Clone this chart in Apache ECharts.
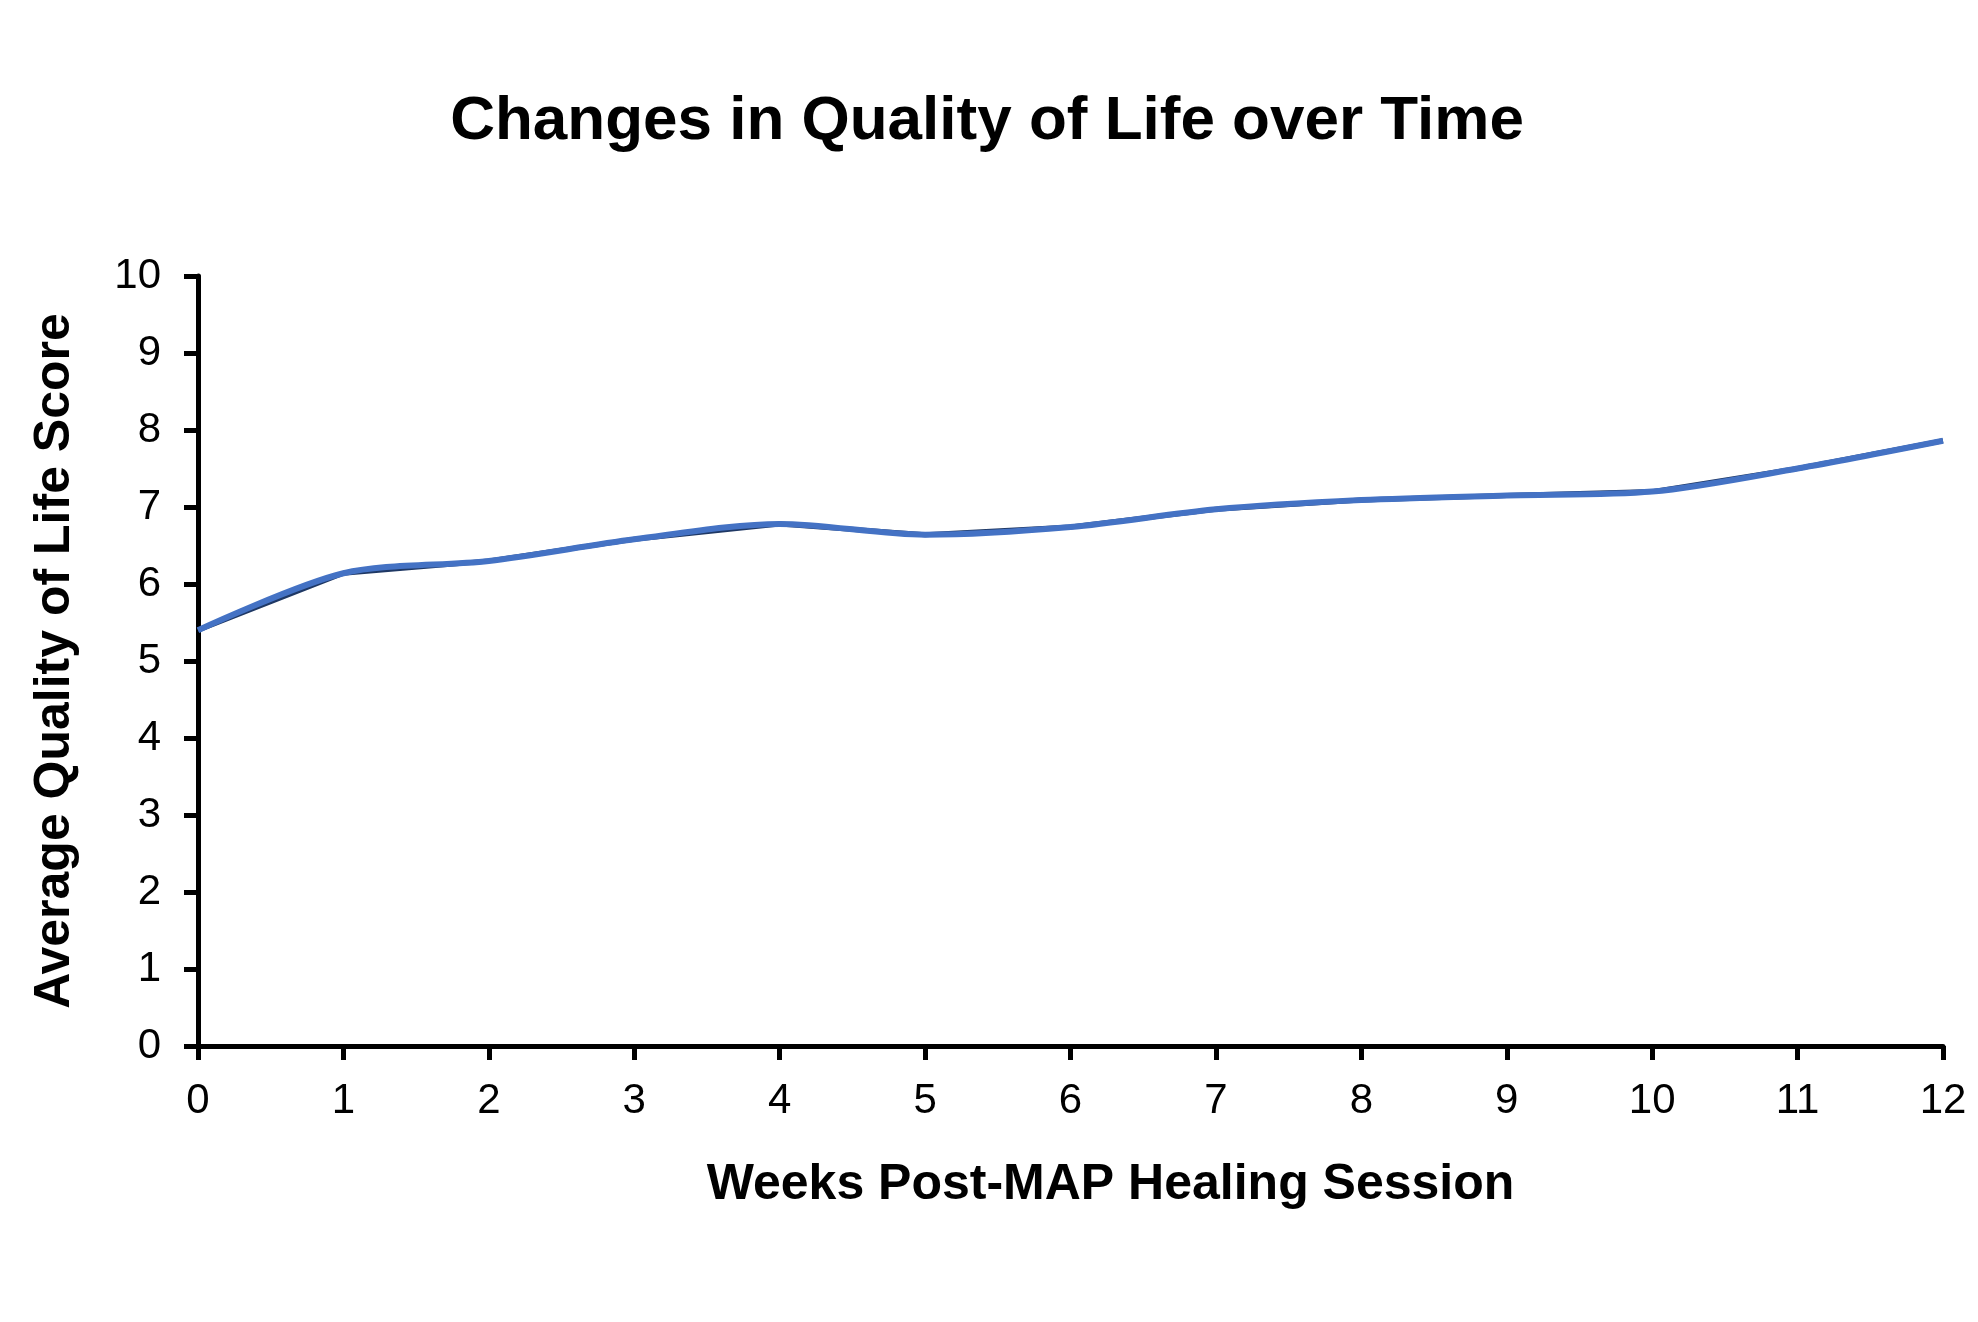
<!DOCTYPE html>
<html>
<head>
<meta charset="utf-8">
<script src="https://cdn.jsdelivr.net/npm/echarts@6/dist/echarts.min.js"></script>
<style>
html,body{margin:0;padding:0;background:#fff;}
#chart{width:1978px;height:1322px;}
</style>
</head>
<body>
<div id="chart"></div>
<script>
const weeks = [0,1,2,3,4,5,6,7,8,9,10,11,12];
const qolScores = [5.40,6.14,6.30,6.58,6.78,6.64,6.74,6.97,7.09,7.15,7.20,7.50,7.86];
const yTicks = [0,1,2,3,4,5,6,7,8,9,10];
const titleText = 'Changes in Quality of Life over Time';
const xTitle = 'Weeks Post-MAP Healing Session';
const yTitle = 'Average Quality of Life Score';

const pairs = weeks.map((w,i)=>[w,qolScores[i]]);
const font = '"Liberation Sans", Arial, sans-serif';

const chart = echarts.init(document.getElementById('chart'));
chart.setOption({
  animation:false,
  backgroundColor:'#fff',
  title:{
    text:titleText, left:982, textAlign:'center', top:86,
    textStyle:{fontFamily:font,fontWeight:'bold',fontSize:62,color:'#000'}
  },
  grid:{left:198,right:35,top:276,bottom:276,containLabel:false},
  xAxis:{
    type:'value',min:0,max:12,interval:1,
    name:xTitle,nameLocation:'middle',nameGap:114,
    nameTextStyle:{fontFamily:font,fontWeight:'bold',fontSize:50,color:'#000',padding:[0,0,0,80]},
    axisLine:{show:true,lineStyle:{color:'#000',width:5}},
    axisTick:{show:true,length:14,lineStyle:{color:'#000',width:5}},
    axisLabel:{fontFamily:font,fontSize:42,color:'#000',margin:34},
    splitLine:{show:false}
  },
  yAxis:{
    type:'value',min:0,max:10,interval:1,
    name:yTitle,nameLocation:'middle',nameGap:118,nameRotate:90,
    nameTextStyle:{fontFamily:font,fontWeight:'bold',fontSize:50,color:'#000'},
    axisLine:{show:true,lineStyle:{color:'#000',width:5}},
    axisTick:{show:true,length:14,lineStyle:{color:'#000',width:5}},
    axisLabel:{fontFamily:font,fontSize:42,color:'#000',margin:37},
    splitLine:{show:false}
  },
  series:[
    {type:'line',data:pairs,showSymbol:false,smooth:false,
     lineStyle:{color:'#1f3864',width:5},z:2},
    {type:'line',data:pairs,showSymbol:false,smooth:0.3,
     lineStyle:{color:'#4472c4',width:6},z:3}
  ]
});
</script>
</body>
</html>
